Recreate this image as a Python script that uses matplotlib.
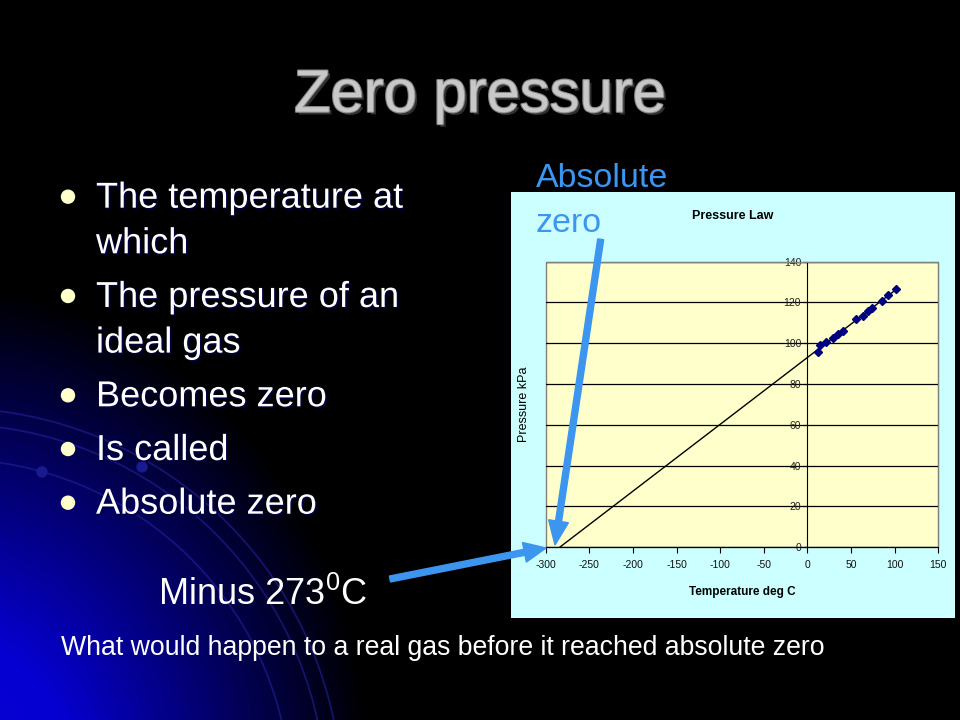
import numpy as np
import matplotlib.pyplot as plt
import matplotlib.patches as patches
import matplotlib.patheffects as pe

plt.rcParams['mathtext.fontset'] = 'custom'
plt.rcParams['mathtext.rm'] = 'Liberation Sans'
plt.rcParams['axes.unicode_minus'] = False

SANS = ['Liberation Sans', 'DejaVu Sans']
NARROW = ['Liberation Sans Narrow', 'Liberation Sans', 'DejaVu Sans']

temps = [11.8, 14.9, 21.8, 29.0, 35.2, 40.9, 55.4, 63.4, 69.9, 73.7, 85.6, 92.5, 101.7]
pressures = [95.6, 99.2, 100.8, 102.7, 104.6, 106.2, 111.9, 113.5, 116.0, 117.1, 120.7, 123.7, 126.6]
# trendline extended back to zero pressure
trend_temps = [-284, 103]
trend_pressures = [0, 126.8]

x_ticks = [-300, -250, -200, -150, -100, -50, 0, 50, 100, 150]
y_ticks = [0, 20, 40, 60, 80, 100, 120, 140]

title = 'Zero pressure'
bullets = [['The temperature at', 'which'],
           ['The pressure of an', 'ideal gas'],
           ['Becomes zero'],
           ['Is called'],
           ['Absolute zero']]
callout = ['Absolute', 'zero']
minus_text = 'Minus 273$^{\\mathrm{0}}$C'
question = 'What would happen to a real gas before it reached absolute zero'

BLUE = '#3c96f0'

fig = plt.figure(figsize=(9.6, 7.2), dpi=100)
fig.patch.set_facecolor('black')

# slide background in pixel coordinates
slide = fig.add_axes([0, 0, 1, 1], zorder=0)
slide.set_xlim(0, 960)
slide.set_ylim(720, 0)
slide.axis('off')

yy, xx = np.mgrid[0:720, 0:960]
d = np.hypot(xx + 50, (yy - 780) * 0.85)
t = np.clip(1 - d / 420, 0, 1) ** 1.0
img = np.zeros((720, 960, 3))
img[..., 2] = np.clip(t * 1.15, 0, 0.82)
img[..., 0] = t * 0.03
slide.imshow(img, extent=(0, 960, 720, 0), aspect='auto', zorder=0)

for r in [341, 376, 392]:
    slide.add_patch(patches.Arc((-50, 800), 2 * r, 2 * r, color='#22229a',
                                lw=1.3, alpha=0.6, zorder=1))
for cx, cy in [(42, 472), (142, 467)]:
    slide.add_patch(patches.Circle((cx, cy), 5, color='#1a1a90', zorder=1))

# chart picture background
slide.add_patch(patches.Rectangle((511, 192), 444, 426, facecolor='#ccffff',
                                  edgecolor='none', zorder=2))

shadow = [pe.withSimplePatchShadow(offset=(1.2, -1.2), shadow_rgbFace='#000044', alpha=0.9)]

slide.text(480, 111.7, title, ha='center', va='baseline', fontsize=43,
           color='#c8c8c8', family=SANS, zorder=3,
           path_effects=[pe.withSimplePatchShadow(offset=(2, -2), shadow_rgbFace='#303030', alpha=1),
                         pe.withStroke(linewidth=1.6, foreground='#8a8a8a')])

base = 207.7
for lines in bullets:
    slide.add_patch(patches.Circle((68, base - 11), 6.5, color='#ffffcc', zorder=3))
    for i, line in enumerate(lines):
        slide.text(96, base, line, ha='left', va='baseline', fontsize=26,
                   color='white', family=SANS, zorder=3, path_effects=shadow)
        base += 45.6 if i < len(lines) - 1 else 0
    base += 53.7

slide.text(536, 187.3, callout[0], ha='left', va='baseline', fontsize=24.5,
           color=BLUE, family=SANS, zorder=3)
slide.text(536, 231.7, callout[1], ha='left', va='baseline', fontsize=24.5,
           color=BLUE, family=SANS, zorder=3)

slide.text(158, 605, minus_text, ha='left', va='baseline', fontsize=26,
           color='white', family=SANS, zorder=3)
slide.text(61, 655, question, ha='left', va='baseline', fontsize=19.2,
           color='white', family=SANS, zorder=3)

# the Excel chart
ax = fig.add_axes([545.7 / 960, (720 - 547.3) / 720, 392.6 / 960, 285.6 / 720], zorder=1)
ax.set_facecolor('#ffffcc')
ax.plot(trend_temps, trend_pressures, color='black', lw=1, zorder=3)
ax.plot(temps, pressures, linestyle='none', marker='D', markersize=4.5,
        color='#000080', zorder=4)
ax.set_xlim(-300, 150)
ax.set_ylim(0, 140)
ax.set_xticks(x_ticks)
ax.set_yticks(y_ticks)
ax.yaxis.grid(True, color='black', lw=0.9)
ax.set_axisbelow(True)

ax.spines['left'].set_position(('data', 0))
ax.spines['left'].set_color('black')
ax.spines['bottom'].set_color('black')
for s in ['top', 'right']:
    ax.spines[s].set_color('#808080')
ax.add_patch(patches.Rectangle((0, 0), 1, 1, transform=ax.transAxes, fill=False,
                               edgecolor='#808080', lw=1, zorder=0.5, clip_on=False))

ax.tick_params(axis='x', direction='out', length=4, pad=5, labelsize=7.5,
               labelcolor='#111111')
ax.tick_params(axis='y', direction='out', length=3, pad=1.5, labelsize=7.5,
               labelcolor='#222222')
for lab in ax.get_xticklabels() + ax.get_yticklabels():
    lab.set_family(NARROW)

ax.set_xlabel('Temperature deg C', fontsize=8.5, fontweight='bold', family=NARROW)
ax.xaxis.set_label_coords(0.5, -0.135)
ax.set_ylabel('Pressure kPa', fontsize=9, family=SANS)
ax.yaxis.set_label_coords(-0.04, 0.5)
ax.text((733 - 545.7) / 392.6, (547.3 - 216) / 285.6, 'Pressure Law',
        transform=ax.transAxes, ha='center', va='center', fontsize=9,
        fontweight='bold', family=NARROW)

# arrows drawn over the chart
top = fig.add_axes([0, 0, 1, 1], zorder=2)
top.set_xlim(0, 960)
top.set_ylim(720, 0)
top.axis('off')
top.patch.set_alpha(0)
top.add_patch(patches.FancyArrow(600.7, 239.3, 555 - 600.7, 545 - 239.3, width=6,
                                 head_width=20, head_length=24,
                                 length_includes_head=True, color=BLUE))
top.add_patch(patches.FancyArrow(390, 579, 546 - 390, 548 - 579, width=6,
                                 head_width=20, head_length=22,
                                 length_includes_head=True, color=BLUE))

fig.savefig('out.png', dpi=100, facecolor='black')
